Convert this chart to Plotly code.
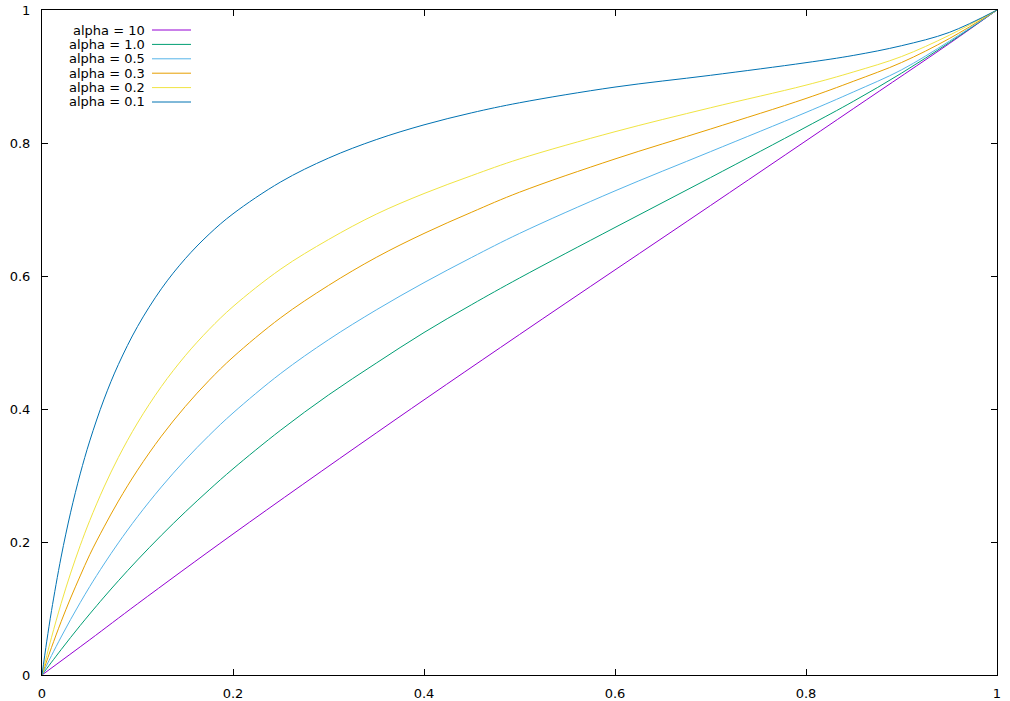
import plotly.graph_objects as go

# Values
labels = ["alpha = 10", "alpha = 1.0", "alpha = 0.5", "alpha = 0.3", "alpha = 0.2", "alpha = 0.1"]
colors = ["#9400d3", "#009e73", "#56b4e9", "#e69f00", "#f0e442", "#0072b2"]

x_a10 = [0, 0.05, 0.1, 0.2, 0.35, 0.5, 0.7, 0.85, 0.95, 1]
y_a10 = [0, 0.053, 0.107, 0.212, 0.364, 0.512, 0.706, 0.852, 0.9495, 1]

x_grid = [0, 0.005, 0.01, 0.02, 0.03, 0.04, 0.05, 0.065, 0.08, 0.1, 0.125, 0.15, 0.175, 0.2,
          0.25, 0.3, 0.35, 0.4, 0.45, 0.5, 0.6, 0.7, 0.8, 0.85, 0.9, 0.95, 1]
y_a1 = [0, 0.0097, 0.0193, 0.0381, 0.0565, 0.0744, 0.0918, 0.1172, 0.1417, 0.173, 0.2101, 0.2452, 0.2784, 0.310,
        0.3683, 0.4211, 0.469, 0.515, 0.557, 0.597, 0.673, 0.748, 0.824, 0.863, 0.905, 0.951, 1]
y_a05 = [0, 0.0148, 0.0293, 0.0571, 0.0836, 0.1088, 0.133, 0.1669, 0.1987, 0.238, 0.2828, 0.3234, 0.3603, 0.394,
         0.4535, 0.5042, 0.549, 0.590, 0.628, 0.664, 0.728, 0.787, 0.846, 0.877, 0.910, 0.953, 1]
y_a03 = [0, 0.0212, 0.0416, 0.0801, 0.1158, 0.1490, 0.181, 0.2227, 0.2615, 0.308, 0.3591, 0.4037, 0.4431, 0.478,
         0.5373, 0.5858, 0.628, 0.664, 0.696, 0.726, 0.776, 0.821, 0.867, 0.893, 0.921, 0.957, 1]
y_a02 = [0, 0.0292, 0.0567, 0.1075, 0.1532, 0.1946, 0.2323, 0.2828, 0.3273, 0.379, 0.4338, 0.4801, 0.5197, 0.554,
         0.6104, 0.6548, 0.693, 0.724, 0.751, 0.776, 0.817, 0.853, 0.887, 0.907, 0.930, 0.962, 1]
y_a01 = [0, 0.0509, 0.0970, 0.1773, 0.2448, 0.3024, 0.352, 0.4149, 0.4670, 0.524, 0.5808, 0.6260, 0.6629, 0.6935,
         0.7415, 0.7773, 0.8051, 0.8273, 0.8454, 0.8605, 0.8841, 0.9018, 0.9208, 0.9318, 0.9463, 0.9663, 1]

xs = [x_a10, x_grid, x_grid, x_grid, x_grid, x_grid]
ys = [y_a10, y_a1, y_a05, y_a03, y_a02, y_a01]

FONT = "DejaVu Sans"
fig = go.Figure()
for name, c, xv, yv in zip(labels, colors, xs, ys):
    fig.add_trace(go.Scatter(x=xv, y=yv, mode="lines", name=name,
                             line=dict(color=c, width=1, shape="spline", smoothing=1.0),
                             showlegend=False, hoverinfo="skip"))

# gnuplot-style key: right-aligned text followed by a line sample
W, H = 1010, 701
ml, mr, mt, mb = 42, 13, 10, 26
pw, ph = W - ml - mr, H - mt - mb
def px(xp):
    return (xp - ml) / pw
def py(yp):
    return (H - mb - yp) / ph

for i, (name, c) in enumerate(zip(labels, colors)):
    yc = 30 + i * 14.4
    fig.add_annotation(x=px(147), y=py(yc), xref="paper", yref="paper", text=name,
                       showarrow=False, xanchor="right", yanchor="middle",
                       font=dict(family=FONT, size=13, color="#000000"))
    fig.add_shape(type="line", xref="paper", yref="paper",
                  x0=px(152), x1=px(191), y0=py(yc), y1=py(yc),
                  line=dict(color=c, width=1))

axis_common = dict(range=[0, 1], dtick=0.2, tick0=0, showgrid=False, zeroline=False,
                   showline=True, linecolor="#000000", linewidth=1, mirror="ticks",
                   ticks="inside", ticklen=6, tickcolor="#000000", automargin=False,
                   tickfont=dict(family=FONT, size=13, color="#000000"))
fig.update_xaxes(**axis_common, ticklabelstandoff=6)
fig.update_yaxes(**axis_common, ticklabelstandoff=8)

fig.update_layout(width=W, height=H, margin=dict(l=ml, r=mr, t=mt, b=mb),
                  paper_bgcolor="white", plot_bgcolor="white",
                  font=dict(family=FONT, size=13))
fig.write_html("out.html", config={"displayModeBar": False},
               post_script="document.body.style.margin='0';document.body.style.overflow='hidden';")
